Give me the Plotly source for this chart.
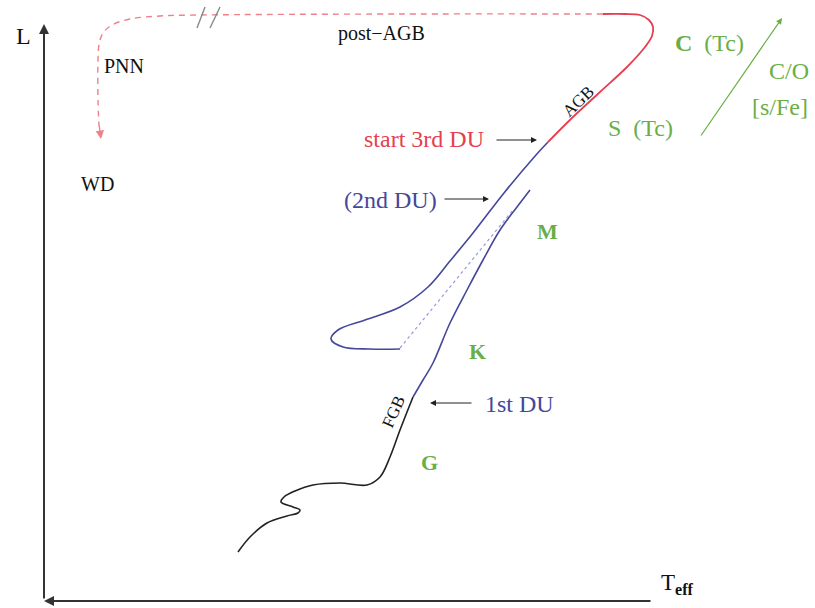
import plotly.graph_objects as go

# ---- schematic track data (T_eff axis runs right-to-left, drawn in figure units) ----
# pre-giant / subgiant wiggle (black)
ms_x = [238, 250, 267, 287, 298, 300, 293, 281, 284, 295, 313, 340, 367, 380, 390, 400, 413]
ms_y = [552, 537, 523, 516, 513, 510, 507, 502, 497, 491, 485, 483, 485, 477, 457, 430, 397]
# first giant branch (blue)
fgb_x = [413, 423, 433, 450, 467, 483, 500, 517, 530]
fgb_y = [397, 380, 363, 323, 290, 260, 230, 207, 190]
# core-He burning loop + early AGB (blue)
loop_x = [400, 370, 343, 331, 338, 365, 400, 428, 450, 473, 504, 536, 548]
loop_y = [349, 349, 347, 339, 330, 320, 307, 287, 261, 233, 193, 155, 142]
# dotted connection
dot_x = [400, 513]
dot_y = [348, 210]
# TP-AGB (red)
agb_x = [548, 573, 600, 627, 645, 652, 653, 649, 640, 625, 603]
agb_y = [142, 117, 92, 67, 47, 36, 27, 20, 15, 14, 14]
# post-AGB / PNN path (dashed red)
pagb_x = [603, 400, 200, 160, 130, 112, 103, 99, 98, 98, 99]
pagb_y = [14, 14, 15, 16, 19, 25, 33, 45, 60, 100, 126]

BLUE = "#45489a"
RED = "#e5404f"
PINK = "#f0808a"
GREEN = "#6aae48"
SERIF = "Liberation Serif, Times New Roman, serif"

fig = go.Figure()

def line(x, y, color, width=1.6, dash="solid", shape="spline"):
    fig.add_trace(go.Scatter(x=x, y=y, mode="lines",
                             line=dict(color=color, width=width, dash=dash,
                                       shape=shape, smoothing=1.0),
                             hoverinfo="skip", showlegend=False))

line(ms_x, ms_y, "#222222", 1.6)
line(fgb_x, fgb_y, BLUE, 1.6)
line(dot_x, dot_y, "#9a9ad8", 1.2, "dot", "linear")
line(loop_x, loop_y, BLUE, 1.6)
line(agb_x, agb_y, RED, 1.8)
line(pagb_x, pagb_y, PINK, 1.4, "6px,5px")
# break marks "//"
line([197, 205], [28, 7], "#888888", 1.4, shape="linear")
line([210, 220], [28, 7], "#888888", 1.4, shape="linear")

ann = []

def arrow(x0, y0, x1, y1, color, width=1.2, size=1.0, head=2):
    ann.append(dict(x=x1, y=y1, ax=x0, ay=y0, xref="x", yref="y",
                    axref="x", ayref="y", showarrow=True, arrowhead=head,
                    arrowsize=size, arrowwidth=width, arrowcolor=color, text=""))

def label(x, y, text, color="#111111", size=16, angle=0, bold=False):
    t = f"<b>{text}</b>" if bold else text
    ann.append(dict(x=x, y=y, xref="x", yref="y", text=t, showarrow=False,
                    textangle=angle,
                    font=dict(family=SERIF, size=size, color=color)))

# axes
arrow(44, 600, 44, 24, "#333333", 2, 1.0, 2)
arrow(652, 601, 44, 601, "#333333", 2, 1.0, 2)
# PNN arrowhead
arrow(99, 124, 101, 139, PINK, 1.4, 1.2, 2)
# green C/O arrow
arrow(700, 137, 782, 18, GREEN, 1.2, 1.0, 2)
# pointer arrows
arrow(495, 140, 537, 140, "#222222", 1.2, 1.0, 2)
arrow(443, 199, 489, 199, "#222222", 1.2, 1.0, 2)
arrow(473, 403, 430, 403, "#222222", 1.2, 1.0, 2)

label(23, 36, "L", size=24)
label(677, 584, "T<sub><b>eff</b></sub>", size=23)
label(124, 66, "PNN", size=20)
label(97, 184, "WD", size=20)
label(381, 33, "post\u2212AGB", size=20)
label(709, 43, "<b>C</b>  (Tc)", GREEN, 24)
label(789, 71, "C/O", GREEN, 24)
label(780, 107, "[s/Fe]", GREEN, 24)
label(640, 128, "S  (Tc)", GREEN, 24)
label(424, 139, "start 3rd DU", RED, 24)
label(390, 200, "(2nd DU)", BLUE, 24)
label(519, 404, "1st DU", BLUE, 24)
label(547, 231, "M", GREEN, 22, bold=True)
label(477, 351, "K", GREEN, 22, bold=True)
label(429, 462, "G", GREEN, 22, bold=True)
label(578, 101, "AGB", "#111111", 17, angle=-44)
label(393, 412, "FGB", "#111111", 17, angle=-66)

fig.update_layout(
    annotations=ann,
    width=815, height=608,
    margin=dict(l=0, r=0, t=0, b=0),
    paper_bgcolor="white", plot_bgcolor="white",
    xaxis=dict(range=[0, 815], visible=False, fixedrange=True),
    yaxis=dict(range=[608, 0], visible=False, fixedrange=True),
    showlegend=False,
)

fig.write_html("out.html")
